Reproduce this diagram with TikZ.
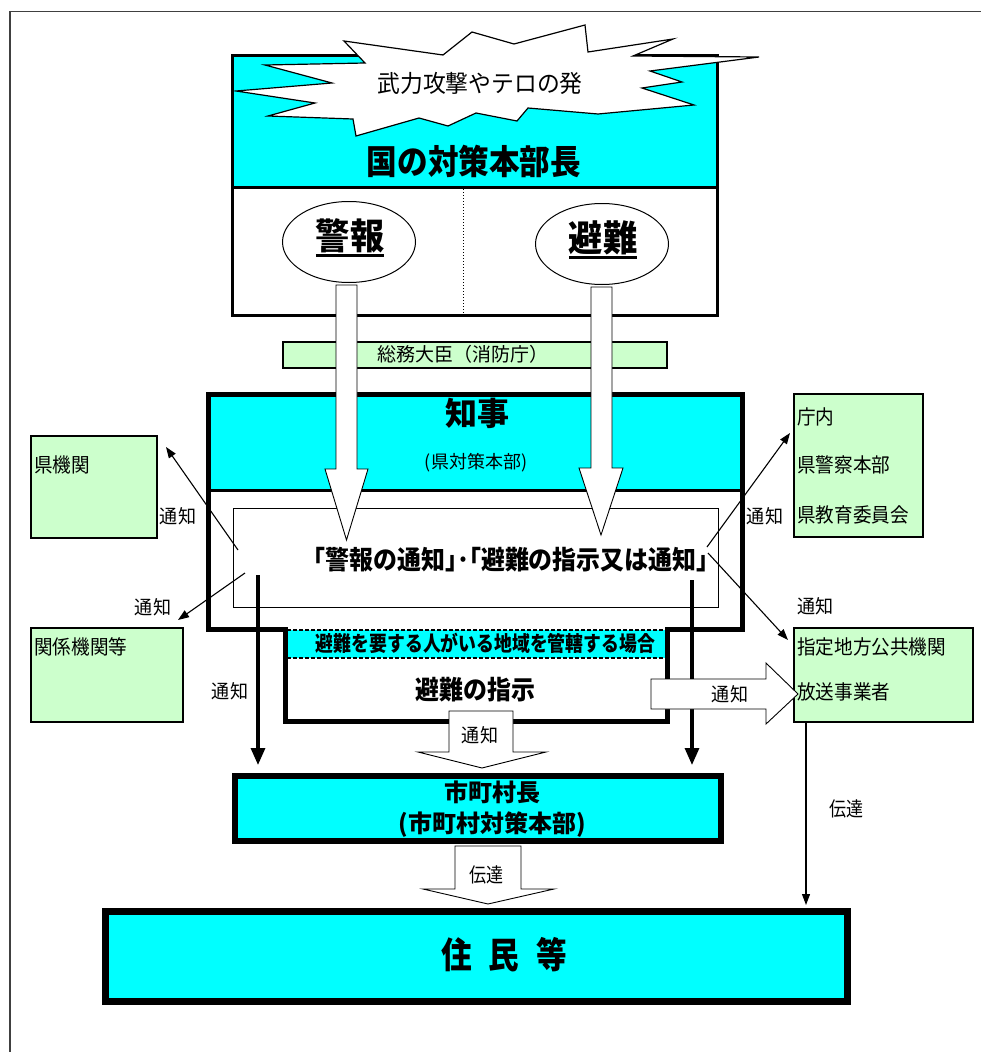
\documentclass[tikz,border=0pt]{standalone}
\usepackage{fontspec}
\usepackage{graphicx}
\setmainfont{Noto Sans CJK JP}
\usetikzlibrary{arrows.meta,shapes.geometric}
\definecolor{cy}{HTML}{00FFFF}
\definecolor{lg}{HTML}{CCFFCC}
\newcommand{\fs}[1]{\fontsize{#1}{#1}\selectfont}
\newcommand{\sx}[2]{\scalebox{#1}[1]{#2}}
\newcommand{\thul}[1]{\setbox0\hbox{#1}\rlap{\rule[-7pt]{\wd0}{3pt}}\box0}
\tikzset{
  gbox/.style={draw, fill=lg, line width=2.5pt, inner sep=0pt},
  boxlbl/.style={anchor=west, inner sep=0pt, font=\fs{20}},
  lbl/.style={inner sep=0pt, font=\fs{19}},
  hollow/.style={draw, fill=white, line width=0.9pt, line join=miter},
  thinarr/.style={-{Triangle[length=11pt,width=8pt]}, line width=1.1pt},
  thickarr/.style={-{Triangle[length=17pt,width=14pt]}, line width=3.2pt},
}
\begin{document}
\begin{tikzpicture}[x=1pt,y=-1pt]
\useasboundingbox (0,0) rectangle (981,1052);
\fill[white] (0,0) rectangle (981,1052);
% outer frame
\draw[line width=1.3pt, black!75] (10,1052) -- (10,11.5) -- (981,11.5);

% top box
\fill[cy] (232,55) rectangle (717,187);
\node[draw, line width=3pt, minimum width=485pt, minimum height=260pt, inner sep=0pt] (kuni) at (474.5,185) {};
\draw[line width=3pt] (232,187) -- (717,187);
\draw[dotted, line width=1pt] (463,189) -- (463,313);

% burst
\draw[fill=white, line width=1.2pt, line join=miter] (236,91) -- (332,83) -- (265,65) -- (365,63) -- (344,41) -- (443,55) -- (472,32) -- (514,44) -- (585,25) -- (588,52) -- (673,39) -- (633,56) -- (759,57) -- (650,71) -- (682,82) -- (642,88) -- (694,105) -- (598,114) -- (528,108) -- (517,121) -- (476,113) -- (448,126) -- (419,118) -- (356,136) -- (353,119) -- (268,116) -- (315,103) -- cycle;
\node[inner sep=0pt, font=\fs{24}] (burst) at (480,83) {\sx{0.95}{武力攻撃やテロの発}};
\node[inner sep=0pt, font=\fs{34}\bfseries] (kunitxt) at (474,161) {\sx{0.9}{国の対策本部長}};

% ellipses
\node[ellipse, draw, fill=white, line width=1pt, minimum width=133pt, minimum height=81pt, inner sep=0pt] (keihou) at (349,242) {};
\node[inner sep=0pt, font=\fs{36}\bfseries] (keihoutxt) at (350,238) {\sx{0.95}{\thul{警報}}};
\node[ellipse, draw, fill=white, line width=1pt, minimum width=133pt, minimum height=81pt, inner sep=0pt] (hinan) at (602,244) {};
\node[inner sep=0pt, font=\fs{36}\bfseries] (hinantxt) at (603,240) {\sx{0.95}{\thul{避難}}};

% soumu bar
\node[gbox, line width=2pt, minimum width=384pt, minimum height=26pt] (soumu) at (475,354.5) {};
\node[inner sep=0pt, font=\fs{19}] (soumutxt) at (463,354) {総務大臣（消防庁）};

% governor box
\fill[cy] (208,394) rectangle (742,490);
\fill[white] (208,490) rectangle (742,629);
\fill[white] (285,629) rectangle (667,721);
\fill[cy] (287,630) rectangle (665,658);
\draw[line width=2pt, dashed, dash pattern=on 4pt off 2pt] (287,630) -- (665,630);
\draw[line width=2pt, dashed, dash pattern=on 4pt off 2pt] (287,658) -- (665,658);
\draw[line width=3pt] (208,490) -- (742,490);
\draw[line width=5pt, line join=miter] (285,629) -- (208,629) -- (208,394) -- (742,394) -- (742,629) -- (667,629) -- (667,721) -- (285,721) -- cycle;
\node[draw, line width=0.8pt, minimum width=485pt, minimum height=99pt, inner sep=0pt] (inner) at (475.5,557.5) {};
\node[inner sep=0pt, font=\fs{32}\bfseries] (chiji) at (477,413) {知事};
\node[inner sep=0pt, font=\fs{18}] (kentai) at (476,463) {(県対策本部)};
\node[inner sep=0pt, font=\fs{26}\bfseries] (tsuchi) at (511,560) {\sx{0.92}{｢警報の通知｣･｢避難の指示又は通知｣}};
\node[inner sep=0pt, font=\fs{21}\bfseries] (band) at (485.5,643) {\sx{0.85}{避難を要する人がいる地域を管轄する場合}};
\node[inner sep=0pt, font=\fs{26}\bfseries] (shiji) at (475.5,690) {\sx{0.92}{避難の指示}};

% hollow arrows from ellipses
\draw[hollow] (336,285) -- (357,285) -- (357,469) -- (368,469) -- (346.5,540) -- (325,469) -- (336,469) -- cycle;
\draw[hollow] (591,287) -- (612,287) -- (612,468) -- (623,468) -- (601,535) -- (579,468) -- (591,468) -- cycle;

% green boxes
\node[gbox, minimum width=126pt, minimum height=102pt] (kenkikan) at (94,487) {};
\node[boxlbl] (kenkikantxt) at (34,465) {\sx{0.93}{県機関}};
\node[gbox, minimum width=152pt, minimum height=94pt] (kankei) at (107,675) {};
\node[boxlbl] (kankeitxt) at (34,647) {\sx{0.93}{関係機関等}};
\node[gbox, minimum width=129pt, minimum height=143pt] (chounai) at (858.5,465.5) {};
\node[boxlbl] (t1) at (797,417) {\sx{0.93}{庁内}};
\node[boxlbl] (t2) at (797,465) {\sx{0.93}{県警察本部}};
\node[boxlbl] (t3) at (797,515) {\sx{0.93}{県教育委員会}};
\node[gbox, minimum width=179pt, minimum height=94pt] (shitei) at (883.5,675) {};
\node[boxlbl] (t4) at (797,647) {\sx{0.93}{指定地方公共機関}};
\node[boxlbl] (t5) at (797,692) {\sx{0.93}{放送事業者}};

% thin arrows
\coordinate (a1s) at (238,550); \coordinate (a1e) at (166,447);
\coordinate (a2s) at (245,573); \coordinate (a2e) at (178,620);
\coordinate (a3s) at (707,547); \coordinate (a3e) at (790,433);
\coordinate (a4s) at (708,553); \coordinate (a4e) at (788,640);
\coordinate (a5s) at (806,722); \coordinate (a5e) at (806,905);
\draw[thinarr] (a1s) -- (a1e);
\draw[thinarr] (a2s) -- (a2e);
\draw[thinarr] (a3s) -- (a3e);
\draw[thinarr] (a4s) -- (a4e);
\draw[thinarr] (a5s) -- (a5e);
\node[lbl] (l1) at (178,516) {\sx{0.95}{通知}};
\node[lbl] (l2) at (153,607) {\sx{0.95}{通知}};
\node[lbl] (l3) at (230,691) {\sx{0.95}{通知}};
\node[lbl] (l4) at (765,516) {\sx{0.95}{通知}};
\node[lbl] (l5) at (815.5,606) {\sx{0.95}{通知}};
\node[lbl, font=\fs{20}] (l6) at (846,809) {\sx{0.85}{伝達}};

% thick arrows
\coordinate (b1s) at (258,575); \coordinate (b1e) at (258,765);
\coordinate (b2s) at (692,580); \coordinate (b2e) at (692,765);
\draw[thickarr] (b1s) -- (b1e);
\draw[thickarr] (b2s) -- (b2e);

% hollow arrows lower
\draw[hollow] (651,679) -- (766,679) -- (766,663) -- (798,694) -- (766,724) -- (766,709) -- (651,709) -- cycle;
\node[lbl] (l7) at (730,694) {\sx{0.95}{通知}};
\draw[hollow] (449,711) -- (513,711) -- (513,752) -- (546,752) -- (482,768) -- (418,752) -- (449,752) -- cycle;
\node[lbl] (l8) at (480,735) {\sx{0.95}{通知}};

% shichouson box
\node[draw, fill=cy, line width=6pt, minimum width=485.5pt, minimum height=65.5pt, inner sep=0pt] (shi) at (477.75,808.25) {};
\node[inner sep=0pt, font=\fs{24}\bfseries] (shi1) at (492,792) {市町村長};
\node[inner sep=0pt, font=\fs{24}\bfseries] (shi2) at (492,825) {(市町村対策本部)};

% dentatsu hollow arrow
\draw[hollow] (455,846) -- (521,846) -- (521,889) -- (554,889) -- (488,904) -- (423,889) -- (455,889) -- cycle;
\node[lbl, font=\fs{20}] (l9) at (486.5,875) {\sx{0.85}{伝達}};

% jumin box
\node[draw, fill=cy, line width=7pt, minimum width=741.5pt, minimum height=90pt, inner sep=0pt] (jumin) at (476.25,956.5) {};
\node[inner sep=0pt, font=\fs{36}\bfseries] (jumintxt) at (504,955) {\sx{0.85}{住\hspace{20pt}民\hspace{20pt}等}};
\end{tikzpicture}
\end{document}
